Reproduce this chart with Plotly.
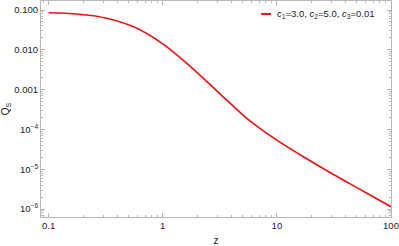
import plotly.graph_objects as go

# Data
z_vals = [0.1, 0.178, 0.316, 0.562, 1.0, 1.78, 3.16, 5.62, 10.0, 17.8, 31.6, 56.2, 100.0]
qs_vals = [0.0855, 0.0793, 0.0631, 0.0372, 0.0141, 0.00363, 7.94e-4, 1.76e-4, 5.37e-5, 1.91e-5, 7.24e-6, 2.88e-6, 1.14e-6]
series_name = "<i>c</i><sub>1</sub>=3.0, <i>c</i><sub>2</sub>=5.0, <i>c</i><sub>3</sub>=0.01"

x_tickvals = [0.1, 1, 10, 100]
x_ticktext = ["0.1", "1", "10", "100"]
y_tickvals = [0.1, 0.01, 0.001, 1e-4, 1e-5, 1e-6]
y_ticktext = ["0.100", "0.010", "0.001", "10<sup>−4</sup>", "10<sup>−5</sup>", "10<sup>−6</sup>"]

x_minor = [m * 10.0 ** e for e in range(-2, 3) for m in range(2, 10)]
y_minor = [m * 10.0 ** e for e in range(-7, 0) for m in range(2, 10)]

FONT = "Liberation Sans, Arial, sans-serif"
frame = "#b8b8b8"
txt = "#222222"

fig = go.Figure()
fig.add_trace(go.Scatter(x=z_vals, y=qs_vals, mode="lines",
                         line=dict(color="#ee1111", width=1.6, shape="spline", smoothing=0.9),
                         name=series_name, showlegend=False))

axis_common = dict(showline=True, linecolor=frame, linewidth=1, mirror="ticks",
                   ticks="inside", ticklen=4, tickcolor=frame, tickwidth=1,
                   showgrid=False, zeroline=False, ticklabeloverflow="allow",
                   tickfont=dict(family=FONT, size=9.5, color=txt))

fig.update_xaxes(type="log", range=[-1.067, 2.0], tickmode="array",
                 tickvals=x_tickvals, ticktext=x_ticktext,
                 minor=dict(tickvals=x_minor, ticks="inside", ticklen=2, tickcolor=frame, showgrid=False),
                 title=dict(text="z", font=dict(family=FONT, size=10, color=txt), standoff=7),
                 **axis_common)
fig.update_yaxes(type="log", range=[-6.201, -0.774], tickmode="array",
                 tickvals=y_tickvals, ticktext=y_ticktext,
                 minor=dict(tickvals=y_minor, ticks="inside", ticklen=2, tickcolor=frame, showgrid=False),
                 title=dict(text="Q<sub>S</sub>", font=dict(family=FONT, size=10, color=txt), standoff=2),
                 **axis_common)

# legend key drawn manually
fig.add_shape(type="line", xref="paper", yref="paper", x0=0.629, x1=0.657, y0=0.94, y1=0.94,
              line=dict(color="#ee1111", width=2))
fig.add_annotation(xref="paper", yref="paper", x=0.669, y=0.94, xanchor="left", yanchor="middle",
                   text=series_name, showarrow=False,
                   font=dict(family=FONT, size=9.5, color=txt))

fig.update_layout(width=399, height=246, margin=dict(l=41, r=8, t=1, b=29),
                  paper_bgcolor="white", plot_bgcolor="white")
fig.write_html("out.html", config={"displayModeBar": False},
               post_script="document.body.style.margin='0px';")
